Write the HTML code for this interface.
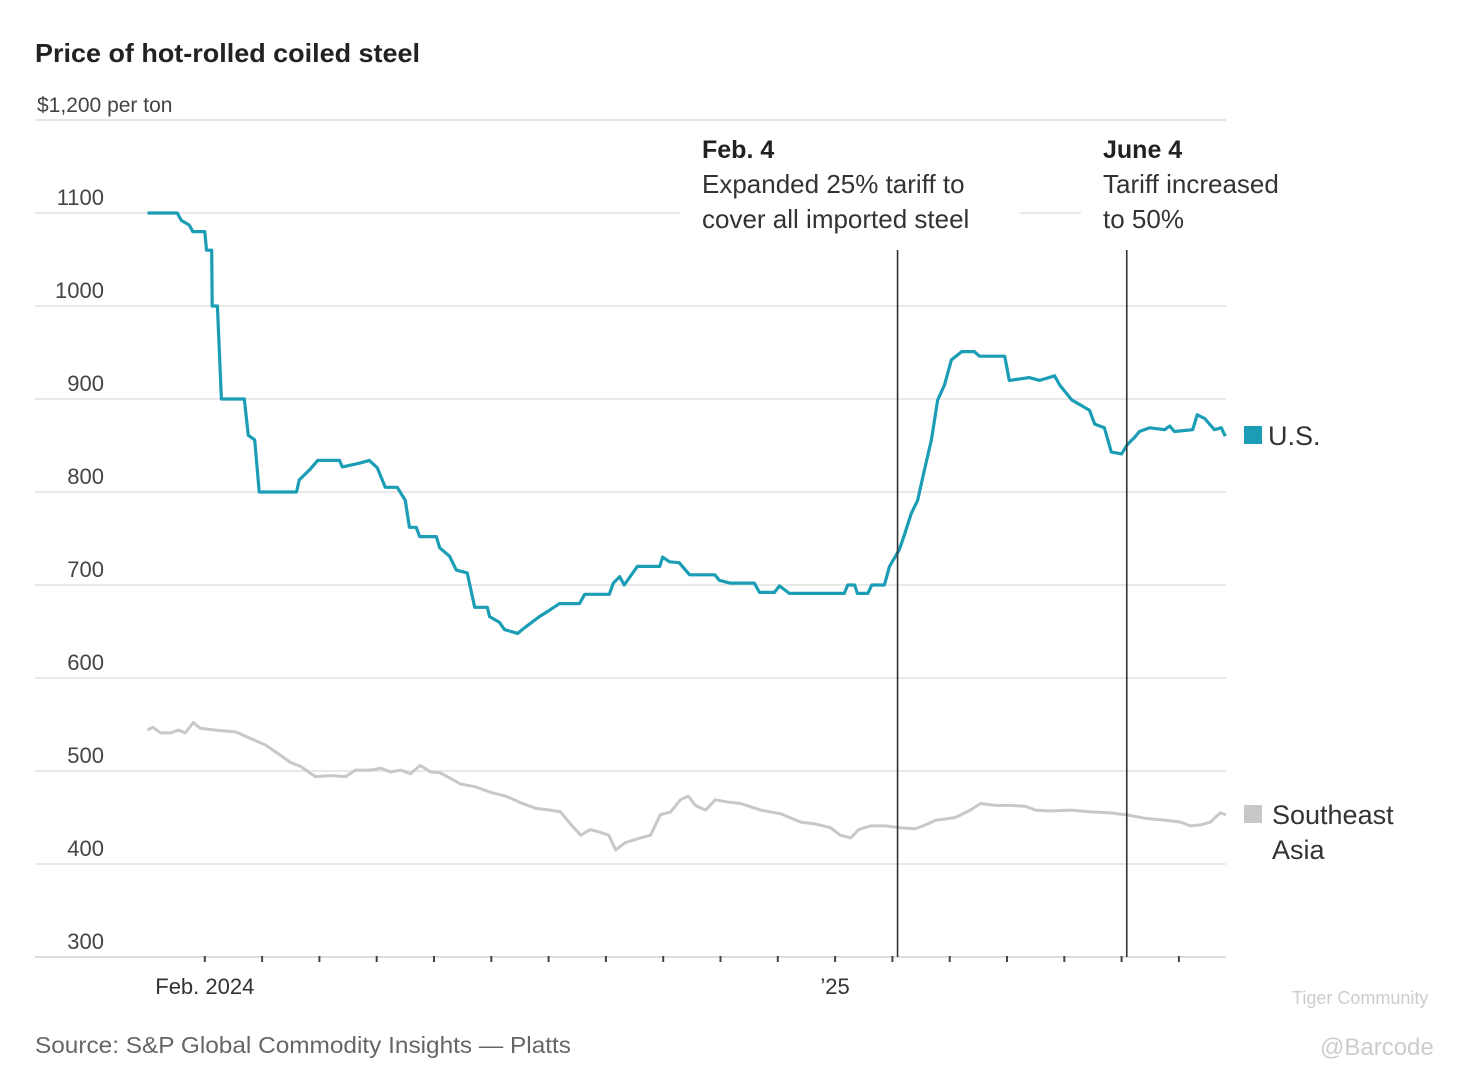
<!DOCTYPE html>
<html><head><meta charset="utf-8"><style>
html,body{margin:0;padding:0;background:#fff;}
body{width:1472px;height:1079px;overflow:hidden;font-family:"Liberation Sans",sans-serif;}
svg text{font-family:"Liberation Sans",sans-serif;}
</style></head><body>
<svg id="chart" width="1472" height="1079" viewBox="0 0 1472 1079">
<text x="35" y="62" font-size="26" font-weight="bold" fill="#222" textLength="385" lengthAdjust="spacingAndGlyphs">Price of hot-rolled coiled steel</text>
<g id="grid"></g>
<g id="ylabels"></g>
<g id="xaxis"></g>
<g id="series"></g>
<g id="annot"></g>
<text x="35" y="1053" font-size="23" fill="#666" textLength="536" lengthAdjust="spacingAndGlyphs">Source: S&amp;P Global Commodity Insights — Platts</text>
<text x="1292" y="1004" font-size="18" fill="#ccc">Tiger Community</text>
<text x="1320" y="1055" font-size="24" fill="#ccc">@Barcode</text>
</svg>
<script>
const yTicks=[300,400,500,600,700,800,900,1000,1100];
const xTickMonths=[1,2,3,4,5,6,7,8,9,10,11,12,13,14,15,16,17,18];
const xLabels=[{m:1,t:"Feb. 2024"},{m:12,t:"’25"}];
const usMonths=[0,.52,.59,.73,.79,1.0,1.03,1.12,1.13,1.22,1.29,1.69,1.76,1.87,1.95,2.6,2.65,2.83,2.97,3.35,3.4,3.7,3.87,4.01,4.15,4.36,4.5,4.57,4.69,4.75,5.04,5.1,5.27,5.39,5.58,5.71,5.93,5.97,6.14,6.23,6.46,6.58,6.84,7.02,7.19,7.54,7.63,8.06,8.13,8.24,8.32,8.55,8.94,8.99,9.11,9.28,9.46,9.9,9.98,10.16,10.59,10.68,10.94,11.03,11.2,12.16,12.22,12.34,12.39,12.57,12.64,12.86,12.95,13.12,13.21,13.33,13.44,13.56,13.68,13.79,13.91,14.03,14.21,14.43,14.52,14.96,15.04,15.39,15.57,15.83,15.92,16.13,16.27,16.44,16.53,16.7,16.82,17.0,17.1,17.23,17.31,17.49,17.75,17.84,17.92,18.24,18.32,18.45,18.62,18.74,18.81];
const usValues=[1100,1100,1092,1087,1080,1080,1060,1060,1000,1000,900,900,861,856,800,800,813,824,834,834,827,831,834,826,805,805,791,762,762,752,752,740,731,716,713,676,676,666,660,652,648,654,666,673,680,680,690,690,702,709,700,720,720,730,725,724,711,711,705,702,702,692,692,699,691,691,700,700,691,691,700,700,720,738,754,777,791,824,856,899,915,942,951,951,946,946,920,923,920,925,915,899,894,888,873,869,843,841,851,859,865,869,867,871,865,867,883,879,867,869,860];
const seMonths=[0,.09,.23,.4,.54,.66,.8,.92,1.19,1.54,1.8,2.06,2.32,2.5,2.67,2.93,3.19,3.46,3.63,3.89,4.07,4.24,4.42,4.59,4.76,4.94,5.11,5.29,5.46,5.72,5.99,6.25,6.51,6.77,7.03,7.21,7.38,7.56,7.73,7.91,8.05,8.17,8.34,8.6,8.78,8.95,9.13,9.3,9.44,9.56,9.74,9.91,10.09,10.35,10.7,11.05,11.4,11.66,11.92,12.09,12.27,12.41,12.62,12.88,13.14,13.4,13.58,13.75,14.1,14.36,14.54,14.8,15.06,15.32,15.5,15.76,16.11,16.46,16.81,17.07,17.42,17.77,18.03,18.2,18.38,18.55,18.72,18.82];
const seValues=[544,547,541,541,544,541,552,546,544,542,535,528,517,509,505,494,495,494,501,501,503,499,501,497,506,499,498,492,486,483,477,473,466,460,458,456,443,431,437,434,431,415,423,428,431,453,456,469,473,463,458,469,467,465,458,454,445,443,439,431,428,437,441,441,439,438,442,447,450,458,465,463,463,462,458,457,458,456,455,453,449,447,445,441,442,445,455,453];
const events=[{m:13.09,title:"Feb. 4",l1:"Expanded 25% tariff to",l2:"cover all imported steel"},{m:17.09,title:"June 4",l1:"Tariff increased",l2:"to 50%"}];
const NS="http://www.w3.org/2000/svg";
const X=m=>147.5+m*57.3;
const Y=v=>957-(v-300)*0.93;
function mk(tag,attrs,parent,txt){const e=document.createElementNS(NS,tag);for(const k in attrs)e.setAttribute(k,attrs[k]);if(txt!==undefined)e.textContent=txt;parent.appendChild(e);return e;}
const grid=document.getElementById('grid'),yl=document.getElementById('ylabels'),xa=document.getElementById('xaxis'),ser=document.getElementById('series'),an=document.getElementById('annot');
// top line
let tl=mk('line',{x1:35,x2:1226,y1:Y(1200),y2:Y(1200),stroke:'#e6e6e6','stroke-width':2},grid);


let tt=mk('text',{x:37,y:Y(1200)-8,'font-size':21,fill:'#444'},yl,'$1,200 per ton');


yTicks.forEach(v=>{
  const g=mk('line',{x1:35,x2:1226,y1:Y(v),y2:Y(v),stroke:v===300?'#dcdcdc':'#e9e9e9','stroke-width':2},grid);
  
  
  const t=mk('text',{x:104,y:Y(v)-8,'font-size':22,fill:'#444','text-anchor':'end'},yl,String(v));
  
  
});
xTickMonths.forEach(m=>{
  const t=mk('line',{x1:X(m),x2:X(m),y1:956,y2:962,stroke:'#444','stroke-width':2},xa);
  
  
});
xLabels.forEach(o=>{
  const t=mk('text',{x:X(o.m),y:994,'font-size':22,fill:'#333','text-anchor':'middle'},xa,o.t);
  
  
});
function path(ms,vs){let d='';const n=Math.min(ms.length,vs.length);for(let i=0;i<n;i++)d+=(i?'L':'M')+X(ms[i]).toFixed(1)+','+Y(vs[i]).toFixed(1);return d;}
const se=mk('path',{d:path(seMonths,seValues),fill:'none',stroke:'#c8c8c8','stroke-width':3,'stroke-linejoin':'round'},ser);


const us=mk('path',{d:path(usMonths,usValues),fill:'none',stroke:'#1a9db5','stroke-width':3.2,'stroke-linejoin':'round'},ser);


events.forEach((e,i)=>{
  const x=X(e.m);
  const tx=i===0?702:1103;
  const bw=i===0?310:200;
  const bg=mk('rect',{x:tx-22,y:130,width:bw+30,height:115,fill:'#fff'},an);
  
  
  const l=mk('line',{x1:x,x2:x,y1:250,y2:957,stroke:'#333','stroke-width':1.6},an);
  
  
  const t1=mk('text',{x:tx,y:158,'font-size':25,'font-weight':'bold',fill:'#222'},an,e.title);
  
  
  const t2=mk('text',{x:tx,y:193,'font-size':26,fill:'#333'},an,e.l1);
  
  
  const t3=mk('text',{x:tx,y:228,'font-size':26,fill:'#333'},an,e.l2);
  
  
});
// legend
const lg=[{c:'#1a9db5',y:426,t:['U.S.'],n:'us'},{c:'#c8c8c8',y:805,t:['Southeast','Asia'],n:'southeast-asia'}];
lg.forEach(o=>{
  const r=mk('rect',{x:1244,y:o.y,width:18,height:18,fill:o.c},an);
  
  
  o.t.forEach((s,j)=>{
    const t=mk('text',{x:o.n==='us'?1268:1272,y:o.y+19+j*35,'font-size':27,fill:'#333'},an,s);
    
    
  });
});
</script>
</body></html>
